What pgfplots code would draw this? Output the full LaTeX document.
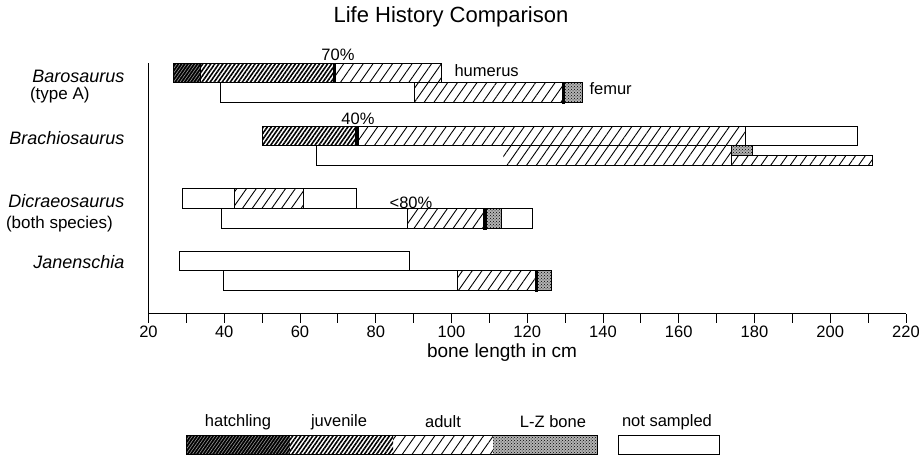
\documentclass[border=0pt]{standalone}
\usepackage{fontspec}
\setmainfont{Liberation Sans}
\usepackage{pgfplots}
\pgfplotsset{compat=1.18}
\usetikzlibrary{patterns,patterns.meta}

\tikzset{
  seg/.style={draw=black, line width=1pt},
  hatch/.style={seg, preaction={fill=black}, pattern={Lines[angle=55,distance=2.6pt,line width=0.6pt]}, pattern color=gray!80},
  juv/.style={seg, preaction={fill=white}, pattern={Lines[angle=55,distance=3.3pt,line width=1.6pt]}, pattern color=black},
  adult/.style={seg, preaction={fill=white}, pattern={Lines[angle=55,distance=8pt,line width=0.9pt]}, pattern color=black},
  adultnb/.style={draw=none, preaction={fill=white}, pattern={Lines[angle=55,distance=8pt,line width=0.9pt]}, pattern color=black},
  lz/.style={seg, preaction={fill=gray!60}, pattern=crosshatch dots, pattern color=black},
  ns/.style={seg, fill=white},
  blk/.style={draw=black, fill=black, line width=0.6pt},
}
% \seg{style}{x0}{x1}{ylow}{yhigh}
\newcommand{\seg}[5]{\addplot[#1] coordinates {(#2,#4) (#3,#4) (#3,#5) (#2,#5)} -- cycle;}

\begin{document}
\begin{tikzpicture}[x=1pt,y=1pt]
\useasboundingbox (0,0) rectangle (919,457);
\begin{axis}[
  at={(148.5pt,143pt)}, anchor=south west, scale only axis,
  width=757.5pt, height=251pt,
  xmin=20, xmax=220, ymin=143, ymax=394,
  axis x line=bottom, axis y line=left,
  axis line style={-, line width=1pt},
  xtick={20,40,...,220}, minor xtick={30,50,...,210},
  ytick=\empty,
  tick align=outside,
  major tick length=9pt, minor tick length=9pt,
  tick style={line width=1pt, black},
  ticklabel style={font=\fontsize{16.5}{19}\selectfont},
  xticklabel style={yshift=1pt},
  /pgf/number format/assume math mode=true,
  clip=false,
]
% Barosaurus humerus (y 374-393)
\seg{hatch}{26.6}{33.7}{374}{393}
\seg{juv}{33.7}{69.1}{374}{393}
\seg{adult}{69.1}{97.3}{374}{393}
\seg{blk}{68.8}{69.4}{374}{393}
% Barosaurus femur (y 354-374)
\seg{ns}{39.0}{90.2}{354}{374}
\seg{adult}{90.2}{129.4}{354}{374}
\seg{lz}{129.4}{134.6}{354}{374}
\seg{blk}{129.2}{129.8}{354}{374}
% Brachiosaurus humerus (y 311-330)
\seg{juv}{50.1}{75.0}{311}{330}
\seg{adult}{75.0}{177.7}{311}{330}
\seg{ns}{177.7}{207.2}{311}{330}
\seg{blk}{74.7}{75.3}{311}{330}
% Brachiosaurus femur (y 291-311)
\seg{ns}{64.3}{113.7}{291}{311}
\seg{adultnb}{113.7}{174.0}{291}{311}
\seg{adult}{174.0}{211.2}{291}{301}
\seg{lz}{174.0}{179.6}{301}{311}
\addplot[seg] coordinates {(64.3,311) (174.0,311)};
\addplot[seg] coordinates {(64.3,291) (174.0,291)};
% Dicraeosaurus upper (y 248-268)
\seg{ns}{28.9}{42.8}{248}{268}
\seg{adult}{42.8}{61.0}{248}{268}
\seg{ns}{61.0}{74.8}{248}{268}
% Dicraeosaurus lower (y 228-248)
\seg{ns}{39.3}{88.5}{228}{248}
\seg{adult}{88.5}{108.7}{228}{248}
\seg{lz}{108.7}{113.3}{228}{248}
\seg{ns}{113.3}{121.5}{228}{248}
\seg{blk}{108.5}{109.1}{228}{248}
% Janenschia upper (y 186-205)
\seg{ns}{28.2}{89.0}{186}{205}
% Janenschia lower (y 166-186)
\seg{ns}{39.7}{101.6}{166}{186}
\seg{adult}{101.6}{122.3}{166}{186}
\seg{lz}{122.3}{126.3}{166}{186}
\seg{blk}{122.1}{122.7}{166}{186}
\end{axis}

% title and labels
\node[font=\fontsize{22}{26}\selectfont] at (451,440) {Life History Comparison};
\node[font=\fontsize{19}{22}\selectfont] at (502,104) {bone length in cm};

\node[anchor=east, font=\fontsize{18}{22}\selectfont\itshape] (baro) at (128,381) {Barosaurus};
\node[anchor=west, font=\fontsize{17}{20}\selectfont, inner xsep=0pt] at ([xshift=1pt]baro.west |- 0,362) {(type A)};
\node[anchor=east, font=\fontsize{18}{22}\selectfont\itshape] at (128,319) {Brachiosaurus};
\node[anchor=east, font=\fontsize{18}{22}\selectfont\itshape] (dicr) at (128,256) {Dicraeosaurus};
\node[anchor=west, font=\fontsize{17}{20}\selectfont, inner xsep=0pt] at ([xshift=1pt]dicr.west |- 0,233) {(both species)};
\node[anchor=east, font=\fontsize{18}{22}\selectfont\itshape] at (128,195) {Janenschia};

\node[font=\fontsize{16.5}{20}\selectfont] at (338,402) {70\%};
\node[anchor=west, font=\fontsize{16.5}{20}\selectfont] at (451,386) {humerus};
\node[anchor=west, font=\fontsize{16.5}{20}\selectfont] at (586,368) {femur};
\node[font=\fontsize{16.5}{20}\selectfont] at (358,338) {40\%};
\node[font=\fontsize{16.5}{20}\selectfont] at (411,254) {<80\%};

% legend
\begin{scope}[line width=1pt]
\fill[black] (186,2) rectangle (290,21);
\path[pattern={Lines[angle=55,distance=2.6pt,line width=0.6pt]}, pattern color=gray!80] (186,2) rectangle (290,21);
\fill[white] (290,2) rectangle (393,21);
\path[pattern={Lines[angle=55,distance=3.3pt,line width=1.6pt]}, pattern color=black] (290,2) rectangle (393,21);
\path[pattern={Lines[angle=55,distance=8pt,line width=0.9pt]}, pattern color=black] (393,2) rectangle (493,21);
\fill[gray!60] (493,2) rectangle (597,21);
\path[pattern=crosshatch dots, pattern color=black] (493,2) rectangle (597,21);
\draw (186,2) rectangle (597,21);
\draw (618,2) rectangle (719,21);
\end{scope}
\node[font=\fontsize{16.5}{20}\selectfont] at (238,35) {hatchling};
\node[font=\fontsize{16.5}{20}\selectfont] at (339,35) {juvenile};
\node[font=\fontsize{16.5}{20}\selectfont] at (443,35) {adult};
\node[font=\fontsize{16.5}{20}\selectfont] at (553,35) {L-Z bone};
\node[font=\fontsize{16.5}{20}\selectfont] at (667,35) {not sampled};
\end{tikzpicture}
\end{document}
